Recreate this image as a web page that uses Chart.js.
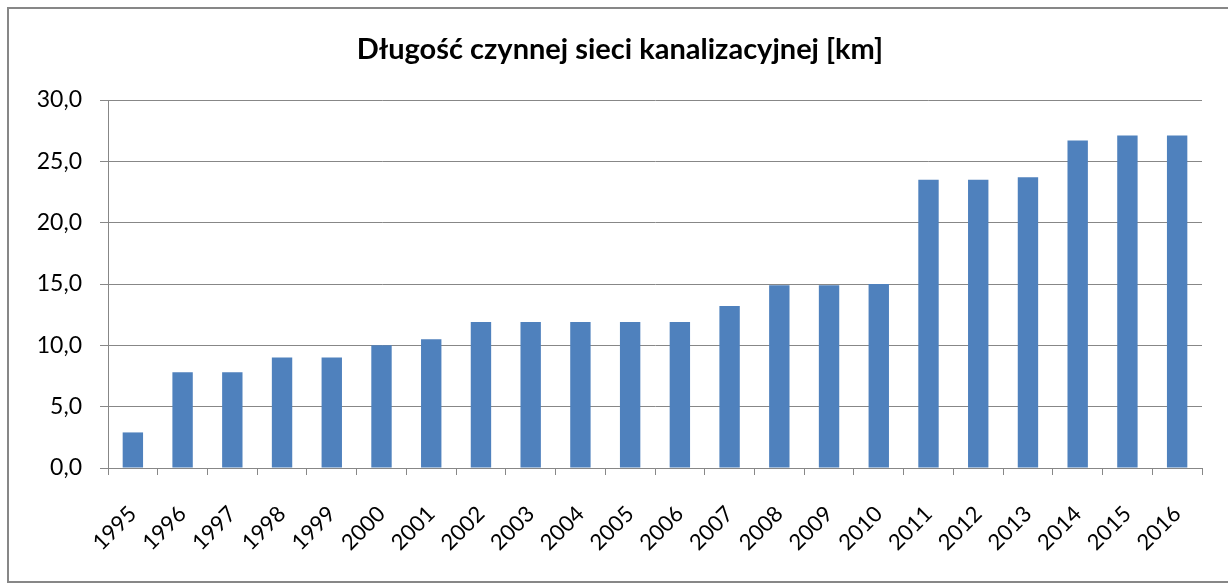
<!DOCTYPE html>
<html lang="pl">
<head>
<meta charset="UTF-8">
<title>Długość czynnej sieci kanalizacyjnej</title>
<script src="https://cdn.jsdelivr.net/npm/chart.js"></script>
<style>
    body { margin: 0; background: #ffffff; }
    #wrap { width: 1228px; height: 585px; position: relative; }
</style>
</head>
<body>
<div id="wrap"><canvas id="chart"></canvas></div>
<script>
// dane
const years = ['1995', '1996', '1997', '1998', '1999', '2000', '2001', '2002', '2003', '2004', '2005',
               '2006', '2007', '2008', '2009', '2010', '2011', '2012', '2013', '2014', '2015', '2016'];
const lengthKm = [2.9, 7.8, 7.8, 9.0, 9.0, 10.0, 10.5, 11.9, 11.9, 11.9, 11.9,
                  11.9, 13.2, 14.9, 14.9, 15.0, 23.5, 23.5, 23.7, 26.7, 27.1, 27.1];
const yTicks = [0, 5, 10, 15, 20, 25, 30];
const titleText = 'Długość czynnej sieci kanalizacyjnej [km]';

const FONT = 'Lato, "Open Sans", sans-serif';
const GRID = '#878787';

// ramka wykresu + tytuł (rysowane ręcznie, żeby wyśrodkować jak w Excelu)
const frame = {
    id: 'frame',
    beforeDraw(chart) {
        const ctx = chart.ctx;
        ctx.save();
        ctx.fillStyle = '#ffffff';
        ctx.fillRect(0, 0, chart.width, chart.height);
        ctx.strokeStyle = GRID;
        ctx.lineWidth = 2;
        ctx.strokeRect(8, 8, 1240, 574);
        ctx.restore();
    },
    afterDraw(chart) {
        const ctx = chart.ctx;
        ctx.save();
        ctx.font = 'bold 29px ' + FONT;
        ctx.fillStyle = '#000000';
        ctx.textAlign = 'center';
        ctx.textBaseline = 'middle';
        ctx.fillText(titleText, 620, 50);
        ctx.restore();
    }
};

new Chart(document.getElementById('chart'), {
    type: 'bar',
    data: {
        labels: years,
        datasets: [{
            label: 'km',
            data: lengthKm,
            backgroundColor: '#4F81BD',
            borderWidth: 0,
            categoryPercentage: 1.0,
            barPercentage: 0.41
        }]
    },
    options: {
        responsive: true,
        maintainAspectRatio: false,
        animation: false,
        layout: { padding: { top: 100, left: 0, right: 26, bottom: 0 } },
        plugins: {
            legend: { display: false },
            title: { display: false },
            tooltip: { enabled: false }
        },
        scales: {
            y: {
                min: 0,
                max: 30,
                afterFit: s => { s.width = 108; },
                afterBuildTicks: s => { s.ticks = yTicks.map(v => ({ value: v })); },
                ticks: {
                    font: { family: FONT, size: 23 },
                    color: '#000000',
                    padding: 18,
                    callback: v => v.toFixed(1).replace('.', ',')
                },
                grid: { color: GRID, lineWidth: 1, tickLength: 8 },
                border: { color: GRID, width: 1 }
            },
            x: {
                afterFit: s => { s.height = 117; },
                ticks: {
                    font: { family: FONT, size: 22 },
                    color: '#000000',
                    minRotation: 45,
                    maxRotation: 45,
                    padding: 26,
                    autoSkip: false
                },
                grid: { offset: true, drawOnChartArea: false, color: GRID, tickLength: 7 },
                border: { color: GRID, width: 1 }
            }
        }
    },
    plugins: [frame]
});
</script>
</body>
</html>
